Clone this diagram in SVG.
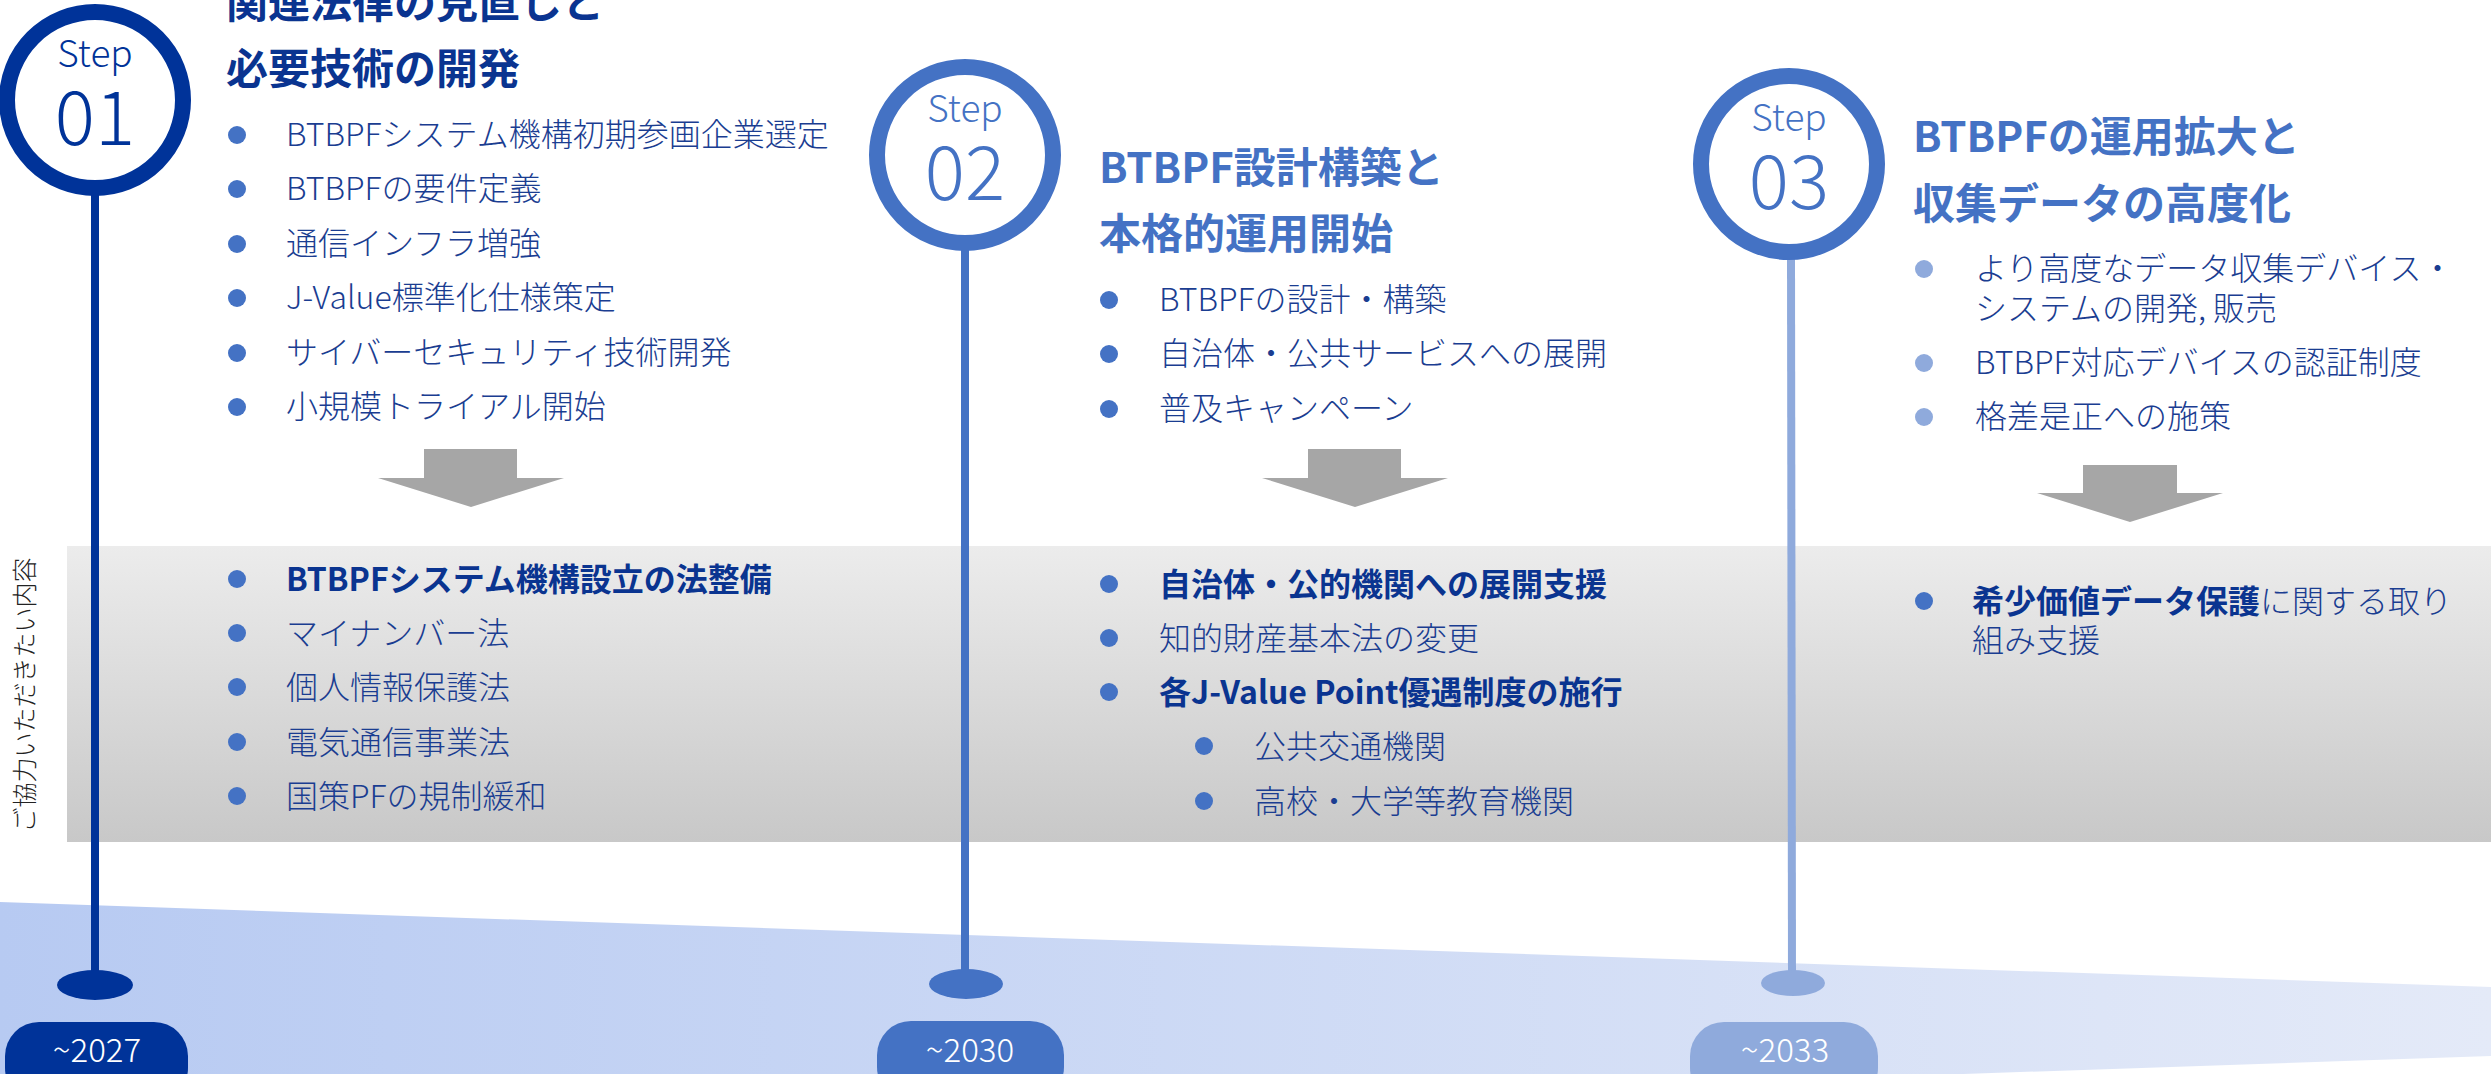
<svg xmlns="http://www.w3.org/2000/svg" width="2491" height="1074" viewBox="0 0 2491 1074">
<defs>
<linearGradient id="band" x1="0" y1="0" x2="0" y2="1">
<stop offset="0" stop-color="#ECECEC"/>
<stop offset="1" stop-color="#C8C8C8"/>
</linearGradient>
<linearGradient id="floor" x1="0" y1="0" x2="1" y2="0">
<stop offset="0" stop-color="#B7CAF2"/>
<stop offset="1" stop-color="#E4EAF8"/>
</linearGradient>
</defs>
<style>
text{font-family:"Noto Sans CJK JP","Noto Sans",sans-serif;}
.t{font-size:32px;fill:#1A3D91;font-weight:300;}
.b{font-weight:700;fill:#0A3490;}
.h1{font-size:42px;font-weight:700;fill:#0A3490;}
.h2{font-size:42px;font-weight:700;fill:#4472C4;}
.stp{font-size:37px;font-weight:300;text-anchor:middle;}
.num{font-size:75px;font-weight:300;text-anchor:middle;}
.yr{font-size:33px;font-weight:300;fill:#FFFFFF;text-anchor:middle;}
.d1{fill:#4472C4;}
.d3{fill:#8FAADC;}
.arr{fill:#A6A6A6;}
</style>
<rect width="2491" height="1074" fill="#FFFFFF"/>
<polygon points="0,902 2491,987 2491,1056 0,1141" fill="url(#floor)"/>
<rect x="67" y="546" width="2424" height="296" fill="url(#band)"/>
<text transform="translate(34,695) rotate(-90)" font-size="25" fill="#222222" text-anchor="middle" font-weight="300">ご協力いただきたい内容</text>

<g id="connectors">
<line x1="95" y1="190" x2="95" y2="985" stroke="#003399" stroke-width="8"/>
<line x1="965" y1="245" x2="965" y2="984" stroke="#4472C4" stroke-width="8"/>
<line x1="1791" y1="255" x2="1792" y2="983" stroke="#8FAADC" stroke-width="8"/>
<polygon class="arr" points="424,449 517,449 517,478 564,478 471,507 378,478 424,478"/>
<polygon class="arr" points="1308,449 1401,449 1401,478 1448,478 1355,507 1262,478 1308,478"/>
<polygon class="arr" points="2083,465 2177,465 2177,493 2223,493 2130,522 2037,493 2083,493"/>
</g>

<g id="step01">
<circle cx="95" cy="100" r="88" fill="#FFFFFF" stroke="#003399" stroke-width="16"/>
<text class="stp" x="95" y="67" fill="#003399">Step</text>
<text class="num" x="95" y="145" fill="#003399">01</text>
<text class="h1" x="226" y="18">関連法律の見直しと</text>
<text class="h1" x="226" y="84">必要技術の開発</text>
<circle class="d1" cx="237" cy="135" r="9"/><text class="t" x="286" y="146">BTBPFシステム機構初期参画企業選定</text>
<circle class="d1" cx="237" cy="189" r="9"/><text class="t" x="286" y="200">BTBPFの要件定義</text>
<circle class="d1" cx="237" cy="244" r="9"/><text class="t" x="286" y="255">通信インフラ増強</text>
<circle class="d1" cx="237" cy="298" r="9"/><text class="t" x="286" y="309">J-Value標準化仕様策定</text>
<circle class="d1" cx="237" cy="353" r="9"/><text class="t" x="286" y="364">サイバーセキュリティ技術開発</text>
<circle class="d1" cx="237" cy="407" r="9"/><text class="t" x="286" y="418">小規模トライアル開始</text>
</g>

<g id="need01">
<circle class="d1" cx="237" cy="579" r="9"/><text class="t b" x="286" y="591">BTBPFシステム機構設立の法整備</text>
<circle class="d1" cx="237" cy="633" r="9"/><text class="t" x="286" y="645">マイナンバー法</text>
<circle class="d1" cx="237" cy="687" r="9"/><text class="t" x="286" y="699">個人情報保護法</text>
<circle class="d1" cx="237" cy="742" r="9"/><text class="t" x="286" y="754">電気通信事業法</text>
<circle class="d1" cx="237" cy="796" r="9"/><text class="t" x="286" y="808">国策PFの規制緩和</text>
</g>

<g id="step02">
<circle cx="965" cy="155" r="88" fill="#FFFFFF" stroke="#4472C4" stroke-width="16"/>
<text class="stp" x="965" y="122" fill="#4472C4">Step</text>
<text class="num" x="965" y="200" fill="#4472C4">02</text>
<text class="h2" x="1099" y="183">BTBPF設計構築と</text>
<text class="h2" x="1099" y="249">本格的運用開始</text>
<circle class="d1" cx="1109" cy="300" r="9"/><text class="t" x="1159" y="311">BTBPFの設計・構築</text>
<circle class="d1" cx="1109" cy="354" r="9"/><text class="t" x="1159" y="365">自治体・公共サービスへの展開</text>
<circle class="d1" cx="1109" cy="409" r="9"/><text class="t" x="1159" y="420">普及キャンペーン</text>
</g>

<g id="need02">
<circle class="d1" cx="1109" cy="584" r="9"/><text class="t b" x="1159" y="596">自治体・公的機関への展開支援</text>
<circle class="d1" cx="1109" cy="638" r="9"/><text class="t" x="1159" y="650">知的財産基本法の変更</text>
<circle class="d1" cx="1109" cy="692" r="9"/><text class="t b" x="1159" y="704">各J-Value Point優遇制度の施行</text>
<circle class="d1" cx="1204" cy="746" r="9"/><text class="t" x="1254" y="758">公共交通機関</text>
<circle class="d1" cx="1204" cy="801" r="9"/><text class="t" x="1254" y="813">高校・大学等教育機関</text>
</g>

<g id="step03">
<circle cx="1789" cy="164" r="88" fill="#FFFFFF" stroke="#4472C4" stroke-width="16"/>
<text class="stp" x="1789" y="131" fill="#4472C4">Step</text>
<text class="num" x="1789" y="209" fill="#4472C4">03</text>
<text class="h2" x="1913" y="152">BTBPFの運用拡大と</text>
<text class="h2" x="1913" y="219">収集データの高度化</text>
<circle class="d3" cx="1924" cy="269" r="9"/><text class="t" x="1975" y="280">より高度なデータ収集デバイス・</text>
<text class="t" x="1975" y="320">システムの開発, 販売</text>
<circle class="d3" cx="1924" cy="363" r="9"/><text class="t" x="1975" y="374">BTBPF対応デバイスの認証制度</text>
<circle class="d3" cx="1924" cy="417" r="9"/><text class="t" x="1975" y="428">格差是正への施策</text>
</g>

<g id="need03">
<circle class="d1" cx="1924" cy="601" r="9"/><text class="t" x="1972" y="613"><tspan class="b">希少価値データ保護</tspan>に関する取り</text>
<text class="t" x="1972" y="652">組み支援</text>
</g>

<g id="year2027">
<ellipse cx="95" cy="985" rx="38" ry="15" fill="#003399"/>
<rect x="5" y="1022" width="183" height="80" rx="34" fill="#003399"/>
<text class="yr" x="97" y="1062">~2027</text>
</g>
<g id="year2030">
<ellipse cx="966" cy="984" rx="37" ry="15" fill="#4472C4"/>
<rect x="877" y="1021" width="187" height="80" rx="34" fill="#4472C4"/>
<text class="yr" x="970" y="1062">~2030</text>
</g>
<g id="year2033">
<ellipse cx="1793" cy="983" rx="32" ry="13" fill="#8FAADC"/>
<rect x="1690" y="1022" width="188" height="80" rx="34" fill="#8FAADC"/>
<text class="yr" x="1785" y="1062">~2033</text>
</g>
</svg>
